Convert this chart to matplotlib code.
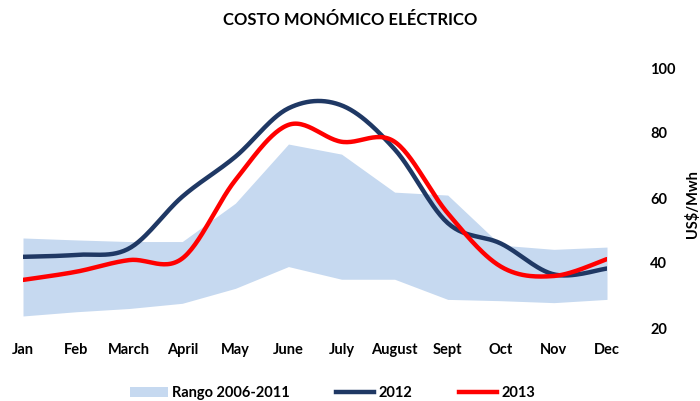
import numpy as np
import matplotlib.pyplot as plt
from matplotlib.patches import Patch
from matplotlib.lines import Line2D

plt.rcParams['font.family'] = ['Lato', 'DejaVu Sans']
plt.rcParams['font.weight'] = 'bold'

months = ['Jan', 'Feb', 'March', 'April', 'May', 'June', 'July', 'August',
          'Sept', 'Oct', 'Nov', 'Dec']
range_low = [23.7, 25.0, 26.0, 27.6, 32.2, 38.9, 35.0, 35.0, 28.8, 28.4, 27.8, 28.8]
range_high = [47.7, 47.1, 46.6, 46.6, 58.4, 76.6, 73.5, 61.8, 60.9, 45.5, 44.2, 44.9]
y2012 = [41.9, 42.5, 44.5, 60.4, 72.7, 87.6, 88.5, 75.0, 52.3, 46.0, 36.5, 38.3]
y2013 = [34.8, 37.3, 40.9, 41.4, 65.5, 82.5, 77.3, 77.3, 55.3, 38.9, 36.0, 41.2]


def smooth(x, y, n=30):
    # catmull-rom style smoothing like excel's smoothed line
    x = np.asarray(x, float)
    y = np.asarray(y, float)
    xs, ys = [], []
    for i in range(len(x) - 1):
        p0 = (x[i - 1], y[i - 1]) if i > 0 else (x[i], y[i])
        p1 = (x[i], y[i])
        p2 = (x[i + 1], y[i + 1])
        p3 = (x[i + 2], y[i + 2]) if i + 2 < len(x) else (x[i + 1], y[i + 1])
        c1 = (p1[0] + (p2[0] - p0[0]) / 6, p1[1] + (p2[1] - p0[1]) / 6)
        c2 = (p2[0] - (p3[0] - p1[0]) / 6, p2[1] - (p3[1] - p1[1]) / 6)
        t = np.linspace(0, 1, n)
        for k in range(2):
            pts = [p1[k], c1[k], c2[k], p2[k]]
            v = ((1 - t) ** 3 * pts[0] + 3 * (1 - t) ** 2 * t * pts[1]
                 + 3 * (1 - t) * t ** 2 * pts[2] + t ** 3 * pts[3])
            (xs if k == 0 else ys).append(v)
    return np.concatenate(xs), np.concatenate(ys)


x = np.arange(len(months))

fig = plt.figure(figsize=(7, 4.01), dpi=100)
ax = fig.add_axes([23 / 700, 1 - 328 / 401, (607 - 23) / 700, (328 - 68) / 401])

ax.fill_between(x, range_low, range_high, color='#c6d9f0', lw=0)
sx, sy = smooth(x, y2012)
ax.plot(sx, sy, color='#1f3864', lw=3.2, solid_capstyle='round')
sx, sy = smooth(x, y2013)
ax.plot(sx, sy, color='#ff0000', lw=3.2, solid_capstyle='round')

ax.set_xlim(0, len(months) - 1)
ax.set_ylim(20, 100)
ax.set_yticks([20, 40, 60, 80, 100])
ax.yaxis.tick_right()
ax.set_xticks(x)
ax.set_xticklabels(months)
ax.tick_params(axis='both', length=0, labelsize=10.5)
ax.tick_params(axis='x', pad=11)
ax.tick_params(axis='y', pad=31)
for s in ax.spines.values():
    s.set_visible(False)

fig.text(692 / 700, 1 - 204 / 401, 'US$/Mwh', rotation=90, ha='center', va='center',
         fontsize=10.5, fontweight='bold')
fig.text(0.5, 1 - 20 / 401, 'COSTO MONÓMICO ELÉCTRICO', ha='center', va='center',
         fontsize=12, fontweight='bold')

handles = [Patch(facecolor='#c6d9f0', edgecolor='none'),
           Line2D([], [], color='#1f3864', lw=3.2),
           Line2D([], [], color='#ff0000', lw=3.2)]
fig.legend(handles, ['Rango 2006-2011', '2012', '2013'], loc='center',
           bbox_to_anchor=(0.475, 1 - 393 / 401), ncol=3, frameon=False,
           fontsize=10.5, handlelength=2.6, handletextpad=0.3, columnspacing=3.2)

fig.savefig('out.png', dpi=100)
